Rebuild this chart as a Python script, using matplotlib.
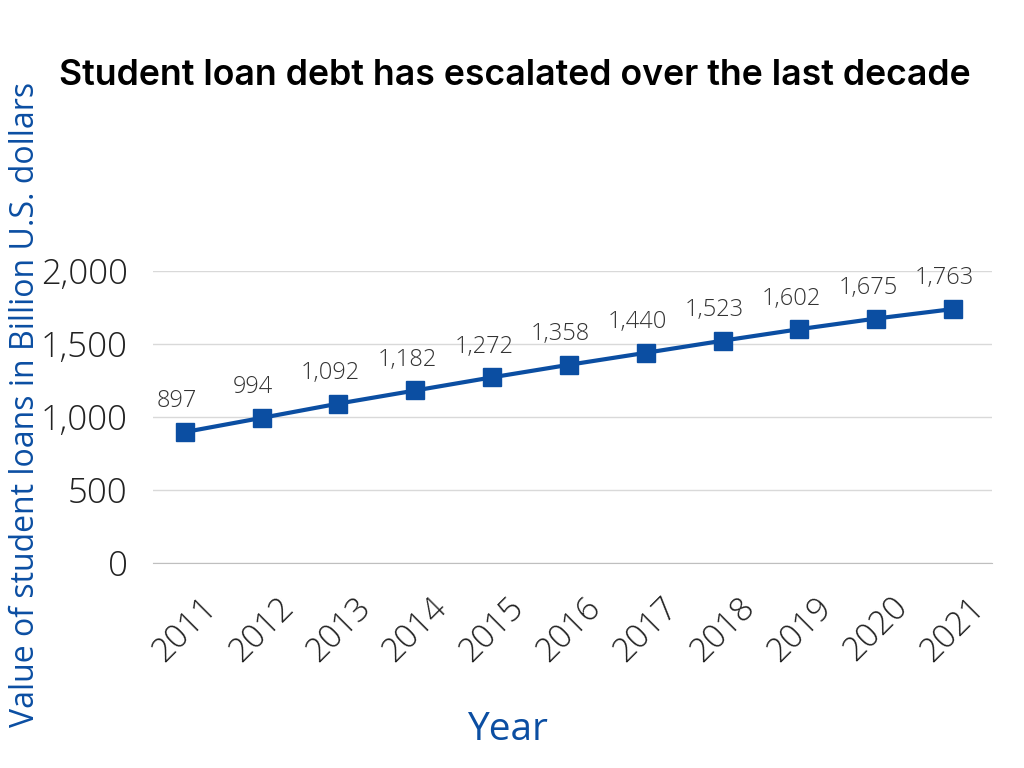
import matplotlib
matplotlib.use("Agg")
from matplotlib import pyplot as plt

# data
years = ["2011", "2012", "2013", "2014", "2015", "2016", "2017", "2018", "2019", "2020", "2021"]
debt = [897, 994, 1092, 1182, 1272, 1358, 1440, 1523, 1602, 1675, 1740]
debt_labels = ["897", "994", "1,092", "1,182", "1,272", "1,358", "1,440", "1,523", "1,602", "1,675", "1,763"]
y_ticks = [0, 500, 1000, 1500, 2000]

blue = "#0b4ea2"
plt.rcParams["font.family"] = ["Open Sans", "DejaVu Sans"]

fig = plt.figure(figsize=(10.24, 7.68), dpi=100)
ax = fig.add_axes([0.149, 0.267, 0.82, 0.38])

x = list(range(len(years)))
ax.plot(x, debt, color=blue, lw=3, marker="s", markersize=13, zorder=3)

# value labels above each point
for xi, yi, lab in zip(x, debt, debt_labels):
    ax.annotate(lab, (xi, yi), xytext=(-6, 22), textcoords="offset points",
                ha="center", va="center", fontsize=17, color="#333333",
                fontweight="light", annotation_clip=False)

ax.set_xlim(-0.42, 10.51)
ax.set_ylim(0, 2000)
ax.set_yticks(y_ticks)
ax.set_yticklabels([f"{v:,}" for v in y_ticks], fontsize=25, color="#222222", fontweight="light")
ax.set_xticks(x)
ax.set_xticklabels(years, rotation=45, ha="center", fontsize=24, color="#222222", fontweight="light")
ax.tick_params(length=0)
ax.tick_params(axis="y", pad=18)
ax.tick_params(axis="x", pad=20)

ax.grid(axis="y", color="#d9d9d9", lw=1)
ax.set_axisbelow(True)
for side in ["top", "right", "left"]:
    ax.spines[side].set_visible(False)
ax.spines["bottom"].set_color("#bfbfbf")

fig.text(0.496, 0.05, "Year", ha="center", va="center", fontsize=28, color=blue)
fig.text(0.025, 0.473, "Value of student loans in Billion U.S. dollars", rotation=90,
         ha="center", va="center", fontsize=23, color=blue)
fig.text(0.058, 0.902, "Student loan debt has escalated over the last decade",
         ha="left", va="center", fontsize=25.7, fontweight="semibold",
         family=["Inter", "DejaVu Sans"], color="black")

fig.savefig("out.png", dpi=100)
